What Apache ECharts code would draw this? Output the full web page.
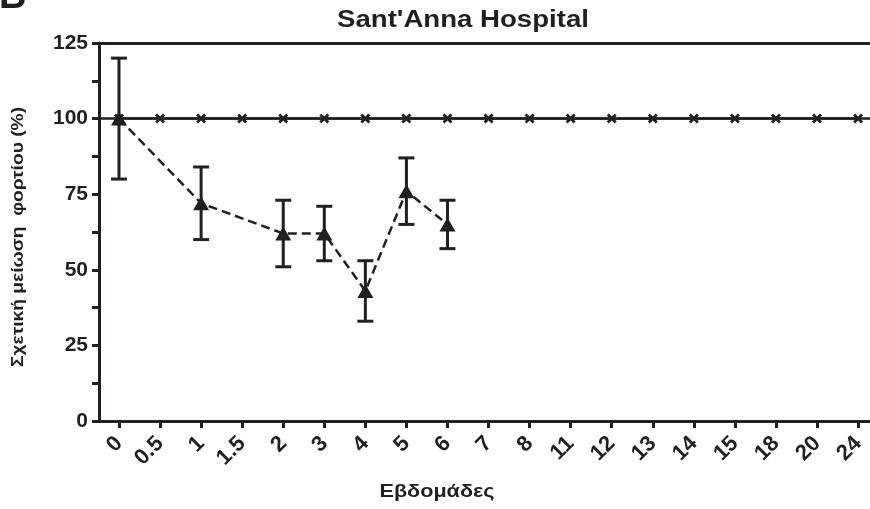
<!DOCTYPE html>
<html>
<head>
<meta charset="utf-8">
<script src="https://cdn.jsdelivr.net/npm/echarts@6/dist/echarts.min.js"></script>
<style>html,body{margin:0;padding:0;background:#fff}#c{width:870px;height:509px}</style>
</head>
<body>
<div id="c"></div>
<script>
// Tick labels on the x axis (weeks)
var categories = ['0','0.5','1','1.5','2','3','4','5','6','7','8','11','12','13','14','15','18','20','24'];
// Treated series (weeks, mean, lower error, upper error)
var treatWeeks = ['0','1','2','3','4','5','6'];
var treatMean  = [100, 72, 62, 62, 43, 76, 65];
var treatLow   = [80, 60, 51, 53, 33, 65, 57];
var treatHigh  = [120, 84, 73, 71, 53, 87, 73];
// Reference series (constant 100 at every week)
var refValues  = [100,100,100,100,100,100,100,100,100,100,100,100,100,100,100,100,100,100,100];
var yTicks = [0, 25, 50, 75, 100, 125];

var ink = '#231f20';
var font = '"Liberation Sans", Arial, sans-serif';

var idx = categories.map(function (c, i) { return i; });
var treatData = treatWeeks.map(function (w, i) { return [categories.indexOf(w), treatMean[i]]; });
var errData = treatWeeks.map(function (w, i) { return [categories.indexOf(w), treatLow[i], treatHigh[i]]; });
var refData = refValues.map(function (v, i) { return [i, v]; });

var chart = echarts.init(document.getElementById('c'), null, {renderer: 'canvas'});
chart.setOption({
  animation: false,
  backgroundColor: '#fff',
  graphic: [
    {type: 'text', x: -1, y: -21, style: {text: 'B', font: 'bold 38px ' + font, fill: ink}, z: 100},
    {type: 'text', x: 463, y: 21, scaleX: 1.2,
     style: {text: "Sant'Anna Hospital", font: 'bold 23px ' + font, fill: ink, align: 'center', verticalAlign: 'middle'}},
    {type: 'text', x: 437, y: 492, scaleX: 1.2,
     style: {text: 'Εβδομάδες', font: 'bold 18px ' + font, fill: ink, align: 'center', verticalAlign: 'middle'}},
    {type: 'text', x: 19, y: 237, rotation: Math.PI / 2, scaleX: 1.2,
     style: {text: 'Σχετική μείωση  φορτίου (%)', font: 'bold 16px ' + font, fill: ink, align: 'center', verticalAlign: 'middle'}}
  ],
  grid: {left: 99, right: 0, top: 43, bottom: 88, containLabel: false},
  xAxis: [{
    type: 'value', min: -0.487, max: 18.29,
    splitLine: {show: false},
    axisLine: {show: true, onZero: false, lineStyle: {color: ink, width: 3}},
    axisTick: {show: true, customValues: idx, length: 7, lineStyle: {color: ink, width: 3}},
    axisLabel: {
      customValues: idx, rotate: 45, margin: 19,
      formatter: function (v) { return categories[Math.round(v)]; },
      fontFamily: font, fontWeight: 'bold', fontSize: 22, color: ink
    }
  }, {
    type: 'value', min: -0.487, max: 18.29, position: 'top',
    splitLine: {show: false},
    axisLine: {show: true, onZero: false, lineStyle: {color: ink, width: 3}},
    axisTick: {show: false}, axisLabel: {show: false}
  }],
  yAxis: {
    type: 'value', min: 0, max: 125, interval: 12.5,
    splitLine: {show: false},
    axisLine: {show: true, onZero: false, lineStyle: {color: ink, width: 3}},
    axisTick: {show: true, length: 7, lineStyle: {color: ink, width: 3}},
    axisLabel: {
      margin: 11,
      formatter: function (v) { return yTicks.indexOf(v) >= 0 ? String(v) : ''; },
      fontFamily: font, fontWeight: 'bold', fontSize: 21, color: ink
    }
  },
  series: [
    {
      type: 'line', data: refData, xAxisIndex: 0,
      symbol: 'path://M0,2 L2,0 L5,3 L8,0 L10,2 L7,5 L10,8 L8,10 L5,7 L2,10 L0,8 L3,5 Z',
      symbolSize: 10,
      itemStyle: {color: ink},
      lineStyle: {color: ink, width: 2.5, type: 'solid'},
      markLine: {
        silent: true, symbol: 'none', label: {show: false},
        lineStyle: {color: ink, width: 2.5, type: 'solid'},
        data: [{yAxis: 100}]
      },
      z: 2
    },
    {
      type: 'custom', xAxisIndex: 0, data: errData,
      renderItem: function (params, api) {
        var x = api.value(0);
        var lo = api.coord([x, api.value(1)]);
        var hi = api.coord([x, api.value(2)]);
        var w = 8;
        var st = {stroke: ink, lineWidth: 3};
        return {type: 'group', children: [
          {type: 'line', shape: {x1: lo[0], y1: lo[1], x2: hi[0], y2: hi[1]}, style: st},
          {type: 'line', shape: {x1: lo[0] - w, y1: lo[1], x2: lo[0] + w, y2: lo[1]}, style: st},
          {type: 'line', shape: {x1: hi[0] - w, y1: hi[1], x2: hi[0] + w, y2: hi[1]}, style: st}
        ]};
      },
      z: 3
    },
    {
      type: 'line', data: treatData, xAxisIndex: 0,
      symbol: 'triangle', symbolSize: [16, 14],
      itemStyle: {color: ink},
      lineStyle: {color: ink, width: 2.5, type: [9, 5]},
      z: 4
    }
  ]
});
</script>
</body>
</html>
